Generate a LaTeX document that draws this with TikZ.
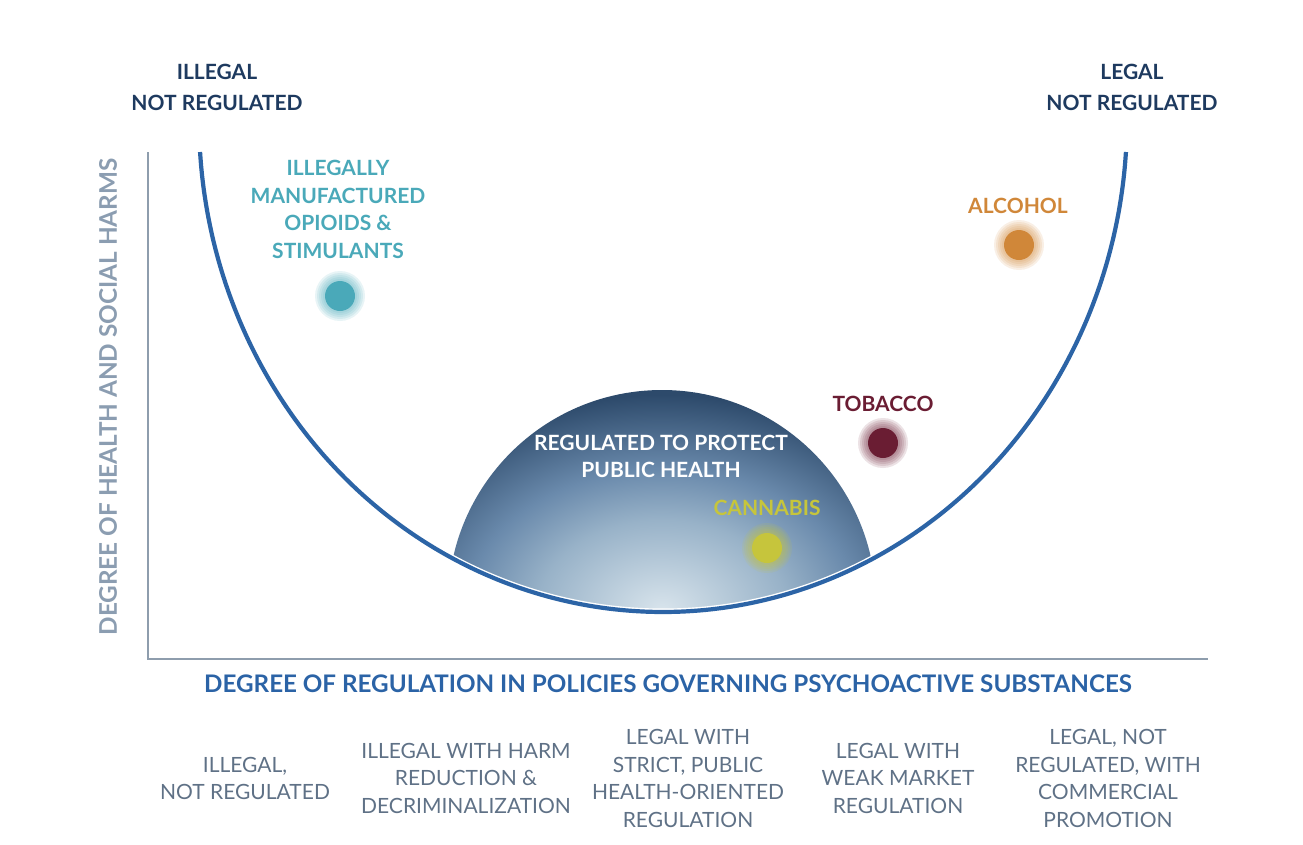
\documentclass[tikz,border=0pt]{standalone}
\usepackage{fontspec}
\setmainfont{Lato}
\definecolor{navy}{HTML}{1E3A5F}
\definecolor{axisgray}{HTML}{8E9DAD}
\definecolor{curveblue}{HTML}{2C64A6}
\definecolor{xblue}{HTML}{2B63A6}
\definecolor{slate}{HTML}{5F7186}
\definecolor{ygray}{HTML}{8B9DB1}
\definecolor{tealc}{HTML}{4AA9B9}
\definecolor{orangec}{HTML}{D08739}
\definecolor{maroonc}{HTML}{6A1D33}
\definecolor{cannac}{HTML}{C6C53C}
\definecolor{domeA}{HTML}{D8E4EC}
\definecolor{domeB}{HTML}{98B2C8}
\definecolor{domeC}{HTML}{6A8AAC}
\definecolor{domeD}{HTML}{2D4A6B}
\pgfdeclareradialshading{domeshade}{\pgfpoint{0bp}{0bp}}{color(0bp)=(domeA); color(9.6bp)=(domeB); color(15bp)=(domeC); color(23bp)=(domeD); color(50bp)=(domeD)}
\begin{document}
\begin{tikzpicture}[x=1pt,y=-1pt,
  toplbl/.style={font=\bfseries\fontsize{21}{31}\selectfont, text=navy, align=center, inner sep=0},
  sublbl/.style={font=\bfseries\fontsize{21}{27.5}\selectfont, align=center, inner sep=0},
  botlbl/.style={font=\fontsize{21}{27.5}\selectfont, text=slate, align=center, inner sep=0},
  dotnode/.style={circle, inner sep=0, minimum size=30pt},
  ucurve/.style={line width=4.2pt, draw=curveblue}
]
\useasboundingbox (0,0) rectangle (1303,844);
% axes
\coordinate (axtop) at (148,152);
\coordinate (axcorner) at (148,659);
\coordinate (axright) at (1208,659);
\draw[axisgray, line width=2.6pt] (axtop) -- (axcorner) -- (axright);
% dome
\begin{scope}
  \clip (662,604) circle[radius=214pt];
  \clip (663,119) ellipse[x radius=464pt, y radius=493pt];
  \shade[shading=domeshade] (337,376) rectangle (987,844);
\end{scope}
% U curve
\draw[white, line width=7pt] plot[domain=3.84:176.16, samples=120, smooth] ({663+464*cos(\x)},{119+493*sin(\x)});
\draw[ucurve] plot[domain=3.84:176.16, samples=120, smooth] ({663+464*cos(\x)},{119+493*sin(\x)});
% glows
\foreach \cx/\cy/\cc in {340/296/tealc, 1019/245/orangec, 883/443/maroonc, 767/548/cannac}{
  \foreach \r in {25,23,21,19,17}{
    \fill[\cc, opacity=0.13] (\cx,\cy) circle[radius=\r pt];
  }
}
\node[dotnode, fill=tealc] (opdot) at (340,296) {};
\node[dotnode, fill=orangec] (aldot) at (1019,245) {};
\node[dotnode, fill=maroonc] (todot) at (883,443) {};
\node[dotnode, fill=cannac] (cadot) at (767,548) {};
% labels
\node[toplbl] (topleft) at (217,87.5) {ILLEGAL\\NOT REGULATED};
\node[toplbl] (topright) at (1132,87.5) {LEGAL\\NOT REGULATED};
\node[sublbl, text=tealc] (oplbl) at (338,209.5) {ILLEGALLY\\MANUFACTURED\\OPIOIDS \&\\STIMULANTS};
\node[sublbl, text=orangec] (allbl) at (1018,206) {ALCOHOL};
\node[sublbl, text=maroonc] (tolbl) at (883,404) {TOBACCO};
\node[sublbl, text=cannac] (calbl) at (767,508) {CANNABIS};
\node[sublbl, text=white] (reglbl) at (661,456.5) {REGULATED TO PROTECT\\PUBLIC HEALTH};
\node[font=\bfseries\fontsize{24.3}{28}\selectfont, text=ygray, rotate=90, inner sep=0] (ylbl) at (108,397) {DEGREE OF HEALTH AND SOCIAL HARMS};
\node[font=\bfseries\fontsize{24.2}{28}\selectfont, text=xblue, inner sep=0] (xlbl) at (668,684) {DEGREE OF REGULATION IN POLICIES GOVERNING PSYCHOACTIVE SUBSTANCES};
% bottom categories
\node[botlbl] (c1) at (245,778.5) {ILLEGAL,\\NOT REGULATED};
\node[botlbl] (c2) at (466,778) {ILLEGAL WITH HARM\\REDUCTION \&\\DECRIMINALIZATION};
\node[botlbl] (c3) at (688,778.5) {LEGAL WITH\\STRICT, PUBLIC\\HEALTH-ORIENTED\\REGULATION};
\node[botlbl] (c4) at (898,778) {LEGAL WITH\\WEAK MARKET\\REGULATION};
\node[botlbl] (c5) at (1108,778.5) {LEGAL, NOT\\REGULATED, WITH\\COMMERCIAL\\PROMOTION};
\end{tikzpicture}
\end{document}
